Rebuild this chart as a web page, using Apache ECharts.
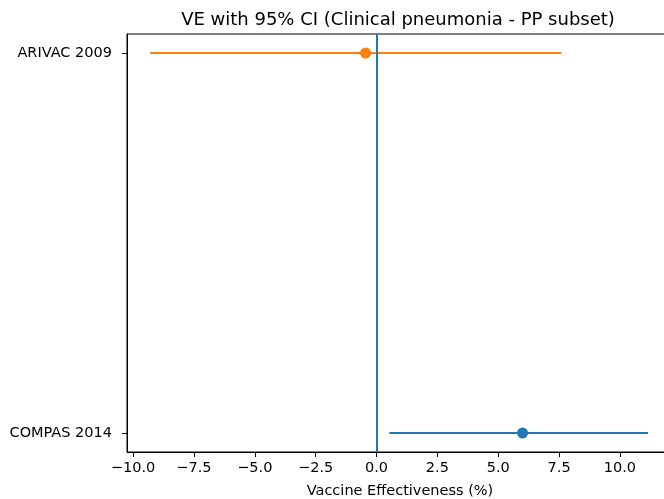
<!DOCTYPE html>
<html>
<head>
<meta charset="utf-8">
<script src="https://cdn.jsdelivr.net/npm/echarts@6/dist/echarts.min.js"></script>
<style>
  html, body { margin: 0; padding: 0; background: #fff; }
  #chart { width: 664px; height: 499px; }
</style>
</head>
<body>
<div id="chart"></div>
<script>
// studies, bottom to top
const studies = ['COMPAS 2014', 'ARIVAC 2009'];
const ve = [6.0, -0.45];
const ciLow = [0.53, -9.3];
const ciHigh = [11.15, 7.6];
const colors = ['#1f77b4', '#ff7f0e'];
const xTicks = [-10, -7.5, -5, -2.5, 0, 2.5, 5, 7.5, 10];
const yTicks = [0, 1];

const font = 'DejaVu Sans';
const fmtX = v => (v < 0 ? '\u2212' : '') + Math.abs(v).toFixed(1);

const series = [];
studies.forEach((name, i) => {
  series.push({
    name: name + ' CI',
    type: 'line',
    data: [[ciLow[i], i], [ciHigh[i], i]],
    showSymbol: false,
    silent: true,
    lineStyle: { color: colors[i], width: 2 },
    z: 3
  });
  series.push({
    name: name,
    type: 'scatter',
    data: [[ve[i], i]],
    symbolSize: 11,
    itemStyle: { color: colors[i], opacity: 1 },
    z: 4
  });
});
// vertical reference line at zero
series.push({
  type: 'line',
  data: [],
  silent: true,
  markLine: {
    symbol: 'none',
    silent: true,
    label: { show: false },
    lineStyle: { color: '#1f77b4', width: 2, type: 'solid' },
    data: [{ xAxis: 0 }]
  }
});

const myChart = echarts.init(document.getElementById('chart'));
const option = {
  animation: false,
  title: {
    text: 'VE with 95% CI (Clinical pneumonia - PP subset)',
    left: 393,
    top: 6,
    textAlign: 'center',
    textStyle: { fontFamily: font, fontSize: 18, fontWeight: 'normal', color: '#000' }
  },
  grid: {
    left: 127, top: 34, bottom: 47, width: 546,
    outerBoundsMode: 'none',
    containLabel: false,
    show: true, borderColor: '#000', borderWidth: 1
  },
  xAxis: {
    type: 'value',
    min: -10.25,
    max: 12.18,
    name: 'Vaccine Effectiveness (%)',
    nameLocation: 'middle',
    nameGap: 32,
    nameTextStyle: { fontFamily: font, fontSize: 14.5, color: '#000' },
    splitLine: { show: false },
    axisLine: { show: true, onZero: false, lineStyle: { color: '#000', width: 1 } },
    axisTick: { show: true, length: 5, customValues: xTicks, lineStyle: { color: '#000' } },
    axisLabel: {
      customValues: xTicks,
      formatter: fmtX,
      margin: 9,
      fontFamily: font, fontSize: 14.5, color: '#000'
    }
  },
  yAxis: {
    type: 'value',
    min: -0.05,
    max: 1.05,
    splitLine: { show: false },
    axisLine: { show: true, onZero: false, lineStyle: { color: '#000', width: 1 } },
    axisTick: { show: true, length: 5, customValues: yTicks, lineStyle: { color: '#000' } },
    axisLabel: {
      customValues: yTicks,
      formatter: v => studies[Math.round(v)],
      margin: 15,
      fontFamily: font, fontSize: 14.5, color: '#000'
    }
  },
  series: series
};
myChart.setOption(option);
</script>
</body>
</html>
